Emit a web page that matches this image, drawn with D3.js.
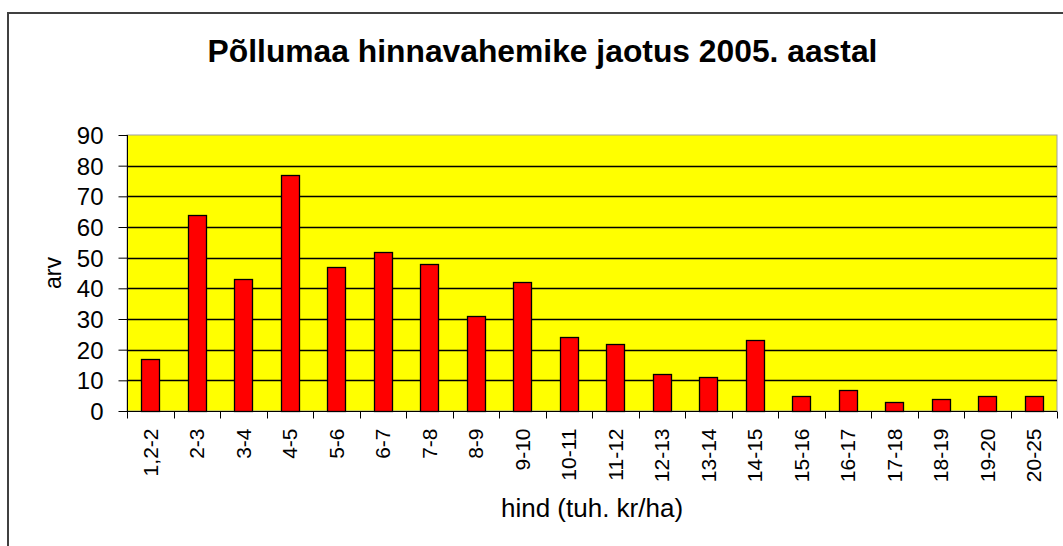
<!DOCTYPE html>
<html><head><meta charset="utf-8">
<script src="https://cdn.jsdelivr.net/npm/d3@7"></script>
<style>html,body{margin:0;padding:0;background:#fff;overflow:hidden}text{font-family:"Liberation Sans",Arial,sans-serif}</style>
</head><body><svg id="c" width="1063" height="546"></svg>
<script>
const categories = ["1,2-2","2-3","3-4","4-5","5-6","6-7","7-8","8-9","9-10","10-11","11-12","12-13","13-14","14-15","15-16","16-17","17-18","18-19","19-20","20-25"];
const values = [17,64,43,77,47,52,48,31,42,24,22,12,11,23,5,7,3,4,5,5];
const yTicks = [0,10,20,30,40,50,60,70,80,90];
const title = "Põllumaa hinnavahemike jaotus 2005. aastal";
const xTitle = "hind (tuh. kr/ha)";
const yTitle = "arv";

const svg = d3.select("#c");
const L = 127, R = 1057, T = 135, B = 411;

// outer chart border (cut off at right/bottom)
svg.append("rect").attr("x",8).attr("y",13).attr("width",1100).attr("height",600)
  .attr("fill","none").attr("stroke","#404040").attr("stroke-width",2);

svg.append("text").attr("x",542.5).attr("y",62).attr("text-anchor","middle")
  .attr("font-size",31.8).attr("font-weight","bold").attr("fill","#000").text(title);

const xc = d3.scaleBand().domain(categories).range([L,R]);
const y = d3.scaleLinear().domain([0,90]).range([B,T]);

// plot background
svg.append("rect").attr("x",L).attr("y",T).attr("width",R-L).attr("height",B-T)
  .attr("fill","#ffff00").attr("stroke","#a0a0a0").attr("stroke-width",1);

// gridlines
svg.append("g").selectAll("line").data(yTicks.filter(d=>d>0 && d<90)).join("line")
  .attr("x1",L).attr("x2",R).attr("y1",d=>Math.round(y(d))+0.5).attr("y2",d=>Math.round(y(d))+0.5)
  .attr("stroke","#000").attr("stroke-width",1.3);

// bars
svg.append("g").selectAll("rect").data(values).join("rect")
  .attr("x",(d,i)=>Math.round(xc(categories[i]) + xc.bandwidth()/2 - 9)+0.5)
  .attr("width",18)
  .attr("y",d=>Math.round(y(d))+0.5)
  .attr("height",d=>Math.round(B-y(d)))
  .attr("fill","#ff0000").attr("stroke","#000").attr("stroke-width",1.3);

// y axis
const ya = d3.axisLeft(y).tickValues(yTicks).tickSize(9).tickPadding(15);
const yg = svg.append("g").attr("transform",`translate(${L+0.5},0)`).call(ya);
yg.select(".domain").attr("stroke","#000").attr("d",`M0,${T}V${B}`);
yg.selectAll(".tick line").attr("stroke","#000");
yg.selectAll("text").attr("font-size",24).attr("fill","#000").attr("font-family","Liberation Sans, Arial").attr("dy","0.36em");

// x axis: ticks between categories
const xg = svg.append("g").attr("transform",`translate(0,${B+0.5})`);
xg.append("line").attr("x1",L).attr("x2",R).attr("stroke","#000");
const edges = categories.map(c=>xc(c)).concat([R]);
xg.selectAll("line.t").data(edges).join("line").attr("class","t")
  .attr("x1",d=>Math.round(d)+0.5).attr("x2",d=>Math.round(d)+0.5).attr("y1",0).attr("y2",7).attr("stroke","#000");
xg.selectAll("text").data(categories).join("text")
  .attr("transform",d=>`translate(${xc(d)+xc.bandwidth()/2+7.5},17) rotate(-90)`)
  .attr("text-anchor","end").attr("font-size",21).attr("fill","#000").text(d=>d);

svg.append("text").attr("x",(L+R)/2).attr("y",517).attr("text-anchor","middle")
  .attr("font-size",26).attr("fill","#000").text(xTitle);
svg.append("text").attr("transform",`translate(61,${(T+B)/2}) rotate(-90)`).attr("text-anchor","middle")
  .attr("font-size",23).attr("fill","#000").text(yTitle);
</script></body></html>
